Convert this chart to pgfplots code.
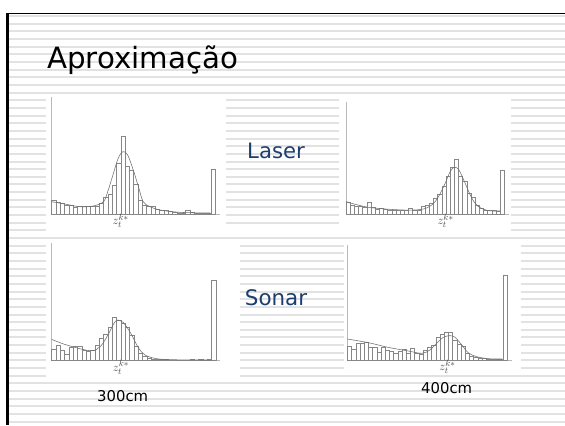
\documentclass[border=0pt]{standalone}
\usepackage{pgfplots}
\pgfplotsset{compat=1.18}
\usepackage{fontspec}
\setmainfont{DejaVu Sans}
\definecolor{slideblue}{RGB}{28,62,110}
\definecolor{histgray}{RGB}{135,135,135}
\definecolor{curvegray}{RGB}{110,110,110}
\definecolor{stripe}{RGB}{226,226,226}
\pgfplotsset{histaxis/.style={scale only axis, anchor=south west, xmin=0, xmax=39, ymin=0,
  axis x line=bottom, axis y line=left, axis line style={-, draw=gray!55, line width=0.5pt},
  xtick=\empty, ytick=\empty, clip=false},
  bars/.style={ybar interval, draw=histgray, fill=white, line width=0.45pt},
  fit/.style={smooth, tension=0.55, draw=curvegray, line width=0.55pt}}
\tikzset{zlab/.style={anchor=base, inner sep=0pt, yshift=-10.5bp, text=gray!60!black, font=\fontsize{13}{15}\selectfont}}
\begin{document}
\begin{tikzpicture}
\begin{scope}[x=1bp,y=1bp]
\path[use as bounding box] (0,0) rectangle (565,425);
\fill[white] (0,0) rectangle (565,425);
\foreach \k in {0,...,53} {\fill[stripe] (9,{425-16.15-7.65*\k-1}) rectangle (565,{425-16.15-7.65*\k+1});}
% white picture panels
\fill[white] (46,189) rectangle (226,327);
\fill[white] (339,189) rectangle (511,327);
\fill[white] (46,189) rectangle (511,196);
\fill[white] (46,47) rectangle (240,182);
\fill[white] (344,50) rectangle (521,182);
% frame
\draw[black, line width=1.8bp] (6,411.5) -- (565,411.5);
\draw[black, line width=2.5bp] (7.7,0) -- (7.7,412.4);
\node[anchor=base west, inner sep=0pt, font=\fontsize{29.4}{30}\selectfont] at (47,356.5) {Aproximação};
\node[anchor=base west, inner sep=0pt, text=slideblue, font=\fontsize{21.3}{23}\selectfont] at (247,266.7) {Laser};
\node[anchor=base west, inner sep=0pt, text=slideblue, font=\fontsize{21.5}{23}\selectfont] at (244.7,119.3) {Sonar};
\node[anchor=base west, inner sep=0pt, font=\fontsize{14.9}{16}\selectfont] at (97,24) {300cm};
\node[anchor=base west, inner sep=0pt, font=\fontsize{14.9}{16}\selectfont] at (421,32) {400cm};
\end{scope}

% Panel A: laser 300cm
\begin{axis}[histaxis, at={(51.7bp,211bp)}, width=168.3bp, height=117.3bp, ymax=352]
\addplot[bars] coordinates {(0,42)(1,35)(2,32)(3,25)(4,27)(5,20)(6,24)(7,22)(8,22)(9,24)(10,24)(11,32)(12,50)(13,60)(14,87)(15,152)(16,234)(17,142)(18,132)(19,89)(20,42)(21,27)(22,24)(23,22)(24,14)(25,10)(26,10)(27,7)(28,4)(29,3)(30,3)(31,10)(32,4)(33,3)(34,3)(35,3)(36,3)(37,135)(38,0)};
\addplot[fit] coordinates {(0,37)(3,30)(6.5,22)(9.6,24)(12,37)(13.1,72)(14.3,122)(15.4,167)(16.5,187)(17.6,177)(18.9,132)(20.1,82)(21.2,37)(22.8,22)(25.1,12)(29.7,5)(36.7,3)};
\node[zlab] at (axis cs:16.0,0) {$z_t^{k*}$};
\end{axis}

% Panel B: laser 400cm
\begin{axis}[histaxis, at={(346bp,210.7bp)}, width=162.5bp, height=112.7bp, ymax=338]
\addplot[bars] coordinates {(0,36)(1,26)(2,23)(3,23)(4,21)(5,35)(6,21)(7,15)(8,18)(9,15)(10,11)(11,13)(12,11)(13,13)(14,11)(15,18)(16,13)(17,11)(18,25)(19,28)(20,33)(21,48)(22,60)(23,83)(24,115)(25,141)(26,165)(27,115)(28,98)(29,63)(30,50)(31,28)(32,18)(33,11)(34,11)(35,11)(36,10)(37,133)(38,0)};
\addplot[fit] coordinates {(0,38)(5.4,21)(13.4,13)(18.2,15)(20.6,28)(22.2,53)(23.8,93)(25,128)(26,141)(27.1,133)(28.6,93)(30.2,48)(31.8,23)(34.2,11)(37,10)};
\node[zlab] at (axis cs:23.9,0) {$z_t^{k*}$};
\end{axis}

% Panel C: sonar 300cm
\begin{axis}[histaxis, at={(51.7bp,64.3bp)}, width=168.6bp, height=117.3bp, ymax=352]
\addplot[bars] coordinates {(0,34)(1,47)(2,32)(3,19)(4,40)(5,42)(6,44)(7,32)(8,27)(9,32)(10,47)(11,67)(12,79)(13,99)(14,130)(15,122)(16,112)(17,100)(18,75)(19,42)(20,22)(21,14)(22,7)(23,5)(24,4)(25,3)(26,3)(27,2)(28,2)(29,2)(30,2)(31,2)(32,3)(33,2)(34,3)(35,2)(36,3)(37,242)(38,0)};
\addplot[fit] coordinates {(0,64)(3.5,47)(8.9,30)(11.2,42)(13,77)(14.3,110)(15.2,122)(16.6,114)(18.3,82)(20,40)(21.6,17)(24.3,6)(28.1,3)(37,2)};
\node[zlab] at (axis cs:16,0) {$z_t^{k*}$};
\end{axis}

% Panel D: sonar 400cm
\begin{axis}[histaxis, at={(347.3bp,65bp)}, width=164.2bp, height=115bp, ymax=345]
\addplot[bars] coordinates {(0,42)(1,32)(2,50)(3,50)(4,53)(5,38)(6,37)(7,22)(8,37)(9,30)(10,25)(11,20)(12,25)(13,32)(14,20)(15,35)(16,20)(17,18)(18,30)(19,38)(20,45)(21,68)(22,78)(23,82)(24,82)(25,60)(26,48)(27,40)(28,20)(29,12)(30,8)(31,6)(32,4)(33,3)(34,3)(35,3)(36,3)(37,255)(38,0)};
\addplot[fit] coordinates {(0,63)(5,52)(9.7,38)(14.5,27)(17.7,20)(19.6,30)(21.2,50)(22.8,68)(24.4,73)(25.6,68)(27.2,45)(28.7,22)(30.7,10)(33.5,4)(36.7,3)};
\node[zlab] at (axis cs:23.8,0) {$z_t^{k*}$};
\end{axis}
\end{tikzpicture}
\end{document}
